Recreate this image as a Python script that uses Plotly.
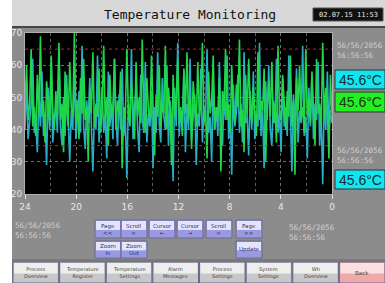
import numpy as np
import plotly.graph_objects as go

# ---------------- data ----------------
green_temp = [
    46, 60, 43, 48, 65, 41, 47, 38, 57, 45, 69, 44, 49, 36, 55, 47, 42, 63, 46, 40,
    52, 44, 67, 43, 48, 33, 58, 46, 41, 61, 47, 44, 70, 42, 49, 37, 56, 45, 62, 43,
    47, 30, 53, 45, 64, 41, 48, 44, 59, 39, 46, 66, 43, 50, 35, 57, 44, 47, 62, 40,
    49, 45, 58, 28, 47, 43, 65, 46, 41, 54, 48, 37, 61, 44, 50, 42, 68, 45, 39, 56,
    46, 43, 63, 47, 32, 51, 44, 60, 41, 48, 45, 66, 40, 53, 46, 29, 57, 44, 49, 62,
    42, 47, 38, 59, 45, 64, 43, 50, 34, 55, 47, 41, 61, 44, 48, 67, 42, 46, 31, 58,
    45, 49, 63, 40, 47, 44, 56, 27, 52, 46, 65, 43, 48, 39, 60, 45, 42, 54, 47, 68,
    41, 46, 33, 57, 44, 62, 48, 42, 53, 45, 38, 64, 43, 49, 46, 59, 30, 47, 55, 44,
    61, 42, 48, 36, 66, 45, 43, 57, 47, 40, 52, 44, 63, 41, 49, 26, 56, 46, 60, 43,
    47, 39, 65, 44, 50, 42, 58, 46, 35, 62, 45, 48, 41, 67, 43, 53, 46, 31, 57, 45,
]
cyan_temp = [
    40, 55, 37, 44, 48, 62, 39, 42, 33, 51, 41, 58, 38, 45, 29, 53, 40, 61, 36, 43,
    47, 39, 64, 41, 35, 50, 38, 57, 43, 30, 46, 40, 60, 37, 44, 52, 39, 66, 41, 34,
    49, 42, 56, 38, 27, 46, 40, 63, 36, 44, 53, 39, 45, 31, 58, 41, 48, 37, 62, 43,
    35, 51, 40, 59, 38, 44, 25, 48, 42, 65, 37, 46, 54, 40, 33, 57, 43, 39, 61, 36,
    45, 41, 52, 28, 47, 39, 64, 42, 36, 56, 44, 40, 60, 35, 49, 43, 24, 53, 41, 67,
    38, 46, 42, 58, 33, 48, 40, 62, 37, 44, 51, 29, 45, 41, 59, 36, 47, 43, 65, 39,
    44, 30, 55, 40, 47, 38, 61, 42, 35, 50, 43, 63, 37, 46, 26, 54, 41, 45, 57, 39,
    48, 36, 64, 42, 44, 32, 52, 40, 58, 37, 45, 41, 67, 38, 47, 28, 55, 43, 60, 40,
    35, 49, 42, 62, 39, 45, 33, 56, 41, 47, 38, 63, 44, 27, 51, 40, 59, 36, 46, 42,
    66, 38, 44, 31, 53, 41, 57, 37, 48, 43, 61, 35, 45, 23, 50, 40, 58, 39, 46, 42,
]
hours = np.linspace(24, 0, len(green_temp))
x_ticks = [24, 20, 16, 12, 8, 4, 0]
y_ticks = [20, 30, 40, 50, 60, 70]
limit_high = 65
limit_low = 35
title_text = "Temperature Monitoring"
clock_text = "02.07.15 11:53"
stamp_text = "56/56/2056<br>56:56:56"
readouts = ["45.6°C", "45.6°C", "45.6°C"]
nav_buttons = ["Process<br>Overview", "Temperature<br>Register", "Temperature<br>Settings",
               "Alarm<br>Messages", "Process<br>Settings", "System<br>Settings",
               "Wh<br>Overview", "Back"]
ctrl_row1 = ["Page<br><<", "Scroll<br><", "Cursor<br>←", "Cursor<br>→", "Scroll<br>>", "Page<br>>>"]
ctrl_row2 = [("Zoom<br>In", 0), ("Zoom<br>Out", 1), ("Update", 5)]

# ---------------- geometry ----------------
W, H = 385, 283
L, R, T, B = 25, 53, 33, 89
PW, PH = W - L - R, H - T - B


def xp(x):
    return (x - L) / PW


def yp(y):
    return (H - B - y) / PH


shapes = []
ann = []


def rect(x0, y0, x1, y1, fill, line=None, lw=0, layer="above"):
    shapes.append(dict(type="rect", xref="paper", yref="paper",
                       x0=xp(x0), x1=xp(x1), y0=yp(y1), y1=yp(y0),
                       fillcolor=fill, line=dict(color=line or fill, width=lw), layer=layer))


def text(x, y, s, size=8, color="#e0e0e0", family="DejaVu Sans", xanchor="center", yanchor="middle"):
    ann.append(dict(xref="paper", yref="paper", x=xp(x), y=yp(y), text=s, showarrow=False,
                    font=dict(size=size, color=color, family=family),
                    xanchor=xanchor, yanchor=yanchor, align="center" if xanchor == "center" else "left"))


# white left strip
rect(0, 0, 12, H, "#ffffff")
# title bar
rect(12, 0, W, 26, "#d8d8d8")
rect(12, 26, W, 28, "#454545")
text(190, 14, title_text, size=13, color="#111111", family="DejaVu Sans Mono")
rect(313, 8, 383, 21, "#111111", "#555555", 1)
text(348, 14.5, clock_text, size=7, color="#e8e8e8", family="DejaVu Sans Mono")

# right side stamps and readouts
text(335, 50, stamp_text, size=7.5, color="#d0d0d0", family="DejaVu Sans Mono", xanchor="left")
rect(335, 70, W, 89, "#10e6f0", "#303030", 1)
text(360, 79.5, readouts[0], size=14, color="#1a2a33", family="Liberation Sans")
rect(335, 92, W, 112, "#22f022", "#303030", 1)
text(360, 102, readouts[1], size=14, color="#1a331a", family="Liberation Sans")
text(335, 155, stamp_text, size=7.5, color="#d0d0d0", family="DejaVu Sans Mono", xanchor="left")
rect(335, 170, W, 189, "#10e6f0", "#303030", 1)
text(360, 179.5, readouts[2], size=14, color="#1a2a33", family="Liberation Sans")

# bottom stamps
text(13, 230, stamp_text, size=7.5, color="#d0d0d0", family="DejaVu Sans Mono", xanchor="left")
text(287, 232, stamp_text, size=7.5, color="#d0d0d0", family="DejaVu Sans Mono", xanchor="left")


def button(x0, y0, x1, y1, label, top="#e4e4ff", bot="#9a9ae4", tc="#333355", size=5.5):
    rect(x0, y0, x1, y1, bot, "#6a6a90", 1)
    rect(x0 + 1, y0 + 1, x1 - 1, y0 + (y1 - y0) * 0.55, top)
    text((x0 + x1) / 2, (y0 + y1) / 2, label, size=size, color=tc, family="DejaVu Sans")


bx = [95, 121, 149, 177, 206, 236]
bw = 26
for i, lab in enumerate(ctrl_row1):
    button(bx[i], 220, bx[i] + bw, 238, lab)
for lab, i in ctrl_row2:
    button(bx[i], 241, bx[i] + bw, 258, lab)

# nav bar
rect(12, 259, W, H, "#7a7a7a")
nw = (W - 12) / len(nav_buttons)
for i, lab in enumerate(nav_buttons):
    x0 = 12 + i * nw + 1
    if lab == "Back":
        button(x0, 262, x0 + nw - 1, H, lab, top="#fbe0e0", bot="#f0a8a8", tc="#444444")
    else:
        button(x0, 262, x0 + nw - 1, H, lab, top="#eeeeee", bot="#c8c8c8", tc="#444444", size=5)

# limit lines
for v in (limit_high, limit_low):
    shapes.append(dict(type="line", xref="paper", yref="y", x0=0, x1=1, y0=v, y1=v,
                       line=dict(color="#d02020", width=1, dash="dot"), layer="above"))

fig = go.Figure()
fig.add_trace(go.Scatter(x=hours, y=cyan_temp, mode="lines",
                         line=dict(color="#2aaec8", width=1.6), hoverinfo="skip"))
fig.add_trace(go.Scatter(x=hours, y=green_temp, mode="lines",
                         line=dict(color="#1ed84a", width=1.6), hoverinfo="skip"))

fig.update_layout(
    width=W, height=H, margin=dict(l=L, r=R, t=T, b=B),
    paper_bgcolor="#8c8c8c", plot_bgcolor="#000000", showlegend=False,
    shapes=shapes, annotations=ann,
    xaxis=dict(range=[24, 0], tickvals=x_ticks, showgrid=True, gridcolor="#707070", griddash="dot",
               gridwidth=1, ticks="outside", ticklen=4, tickcolor="#e0e0e0",
               tickfont=dict(size=9, color="#e8e8e8", family="DejaVu Sans"),
               minor=dict(dtick=2, showgrid=True, gridcolor="#606060", griddash="dot"),
               showline=True, linecolor="#b0b0b0", mirror=True, zeroline=False),
    yaxis=dict(range=[20, 70], tickvals=y_ticks, showgrid=True, gridcolor="#707070", griddash="dot",
               tickfont=dict(size=9, color="#e8e8e8", family="DejaVu Sans"),
               showline=True, linecolor="#b0b0b0", mirror=True, zeroline=False, ticks=""),
)
fig.write_html("out.html", config={"displayModeBar": False},
               post_script="document.body.style.margin='0';document.body.style.overflow='hidden';")
